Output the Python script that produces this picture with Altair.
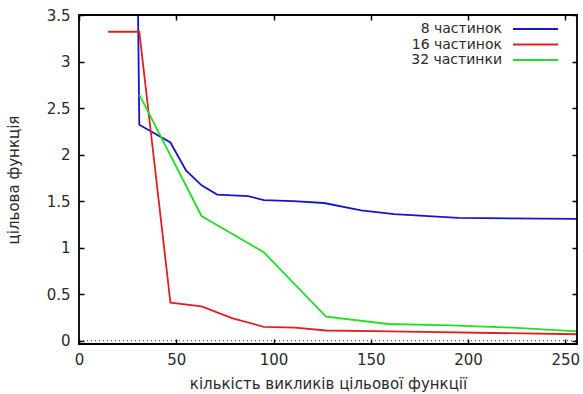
import altair as alt
import pandas as pd

# ---- data ----
series_names = ["8 частинок", "16 частинок", "32 частинки"]
series_colors = ["#1616c8", "#e02020", "#20e020"]

x8 = [30, 31, 47, 55, 63, 71, 87, 95, 110, 126, 145, 162, 195, 256]
y8 = [4.2, 2.32, 2.13, 1.83, 1.67, 1.57, 1.555, 1.51, 1.50, 1.48, 1.40, 1.36, 1.32, 1.31]

x16 = [15, 31, 47, 63, 79, 95, 111, 127, 160, 256]
y16 = [3.32, 3.32, 0.41, 0.37, 0.24, 0.15, 0.14, 0.11, 0.10, 0.07]

x32 = [31, 63, 95, 127, 159, 191, 223, 256]
y32 = [2.645, 1.34, 0.95, 0.26, 0.18, 0.165, 0.14, 0.10]

x_ticks = [0, 50, 100, 150, 200, 250]
y_ticks = [0, 0.5, 1, 1.5, 2, 2.5, 3, 3.5]

x_title = "кількість викликів цільової функції"
y_title = "цільова функція"

# ---- build table ----
rows = []
for name, xs, ys in zip(series_names, [x8, x16, x32], [y8, y16, y32]):
    for i, (xv, yv) in enumerate(zip(xs, ys)):
        rows.append({"series": name, "x": xv, "y": yv, "order": i})
df = pd.DataFrame(rows)

W, H = 498, 329
FONT = "DejaVu Sans"
FS = 15
TXT = "#2a2a2a"

xscale = alt.Scale(domain=[0, 256], nice=False, zero=False)
yscale = alt.Scale(domain=[-0.035, 3.5], nice=False, zero=False)

color = alt.Color("series:N", scale=alt.Scale(domain=series_names, range=series_colors), legend=None)

lines = alt.Chart(df).mark_line(strokeWidth=1.8, clip=True).encode(
    x=alt.X("x:Q", scale=xscale, axis=alt.Axis(
        orient="bottom", values=x_ticks, title=x_title, tickSize=5, offset=-5,
        domain=False, grid=False, labelPadding=8, titlePadding=9,
        labelFontSize=FS, titleFontSize=FS, labelFont=FONT, titleFont=FONT,
        titleFontWeight="normal", labelColor=TXT, titleColor=TXT,
        tickColor="black", tickWidth=1.5, labelFlush=False)),
    y=alt.Y("y:Q", scale=yscale, axis=alt.Axis(
        orient="left", values=y_ticks, title=y_title, tickSize=5, offset=-5,
        domain=False, grid=False, labelPadding=9, titlePadding=25, format=".1~f",
        labelFontSize=FS, titleFontSize=FS, labelFont=FONT, titleFont=FONT,
        titleFontWeight="normal", labelColor=TXT, titleColor=TXT,
        tickColor="black", tickWidth=1.5, labelFlush=False)),
    color=color,
    order="order:Q",
    detail="series:N",
)

# zero dotted line + mirror axes (top / right)
zero = alt.Chart(pd.DataFrame({"z": [0]})).mark_rule(
    strokeDash=[1, 3], color="#333", strokeWidth=1
).encode(
    y=alt.Y("z:Q", scale=yscale, axis=alt.Axis(
        orient="right", values=y_ticks, title=None, labels=False, tickSize=5,
        offset=-5, domain=False, grid=False, tickColor="black", tickWidth=1.5)),
    x=alt.datum(0, scale=xscale, axis=alt.Axis(
        orient="top", values=x_ticks, title=None, labels=False, tickSize=5,
        offset=-5, domain=False, grid=False, tickColor="black", tickWidth=1.5)),
    x2=alt.datum(256),
)

# plot frame
frame = alt.Chart(pd.DataFrame({"f": [0]})).mark_rect(
    fill="white", fillOpacity=0, stroke="black", strokeWidth=1.8
).encode(x=alt.value(0), x2=alt.value(W), y=alt.value(0), y2=alt.value(H))

# manual legend (text right-aligned, line sample to the right)
legend_layers = []
for i, (name, col) in enumerate(zip(series_names, series_colors)):
    yy = 14 + 15.5 * i
    legend_layers.append(
        alt.Chart(pd.DataFrame({"t": [name]})).mark_text(
            align="right", baseline="middle", fontSize=14, font=FONT, color=TXT
        ).encode(text="t:N", x=alt.value(423), y=alt.value(yy))
    )
    legend_layers.append(
        alt.Chart(pd.DataFrame({"t": [name]})).mark_rule(color=col, strokeWidth=1.8).encode(
            x=alt.value(434), x2=alt.value(479), y=alt.value(yy)
        )
    )

chart = alt.layer(lines, zero, frame, *legend_layers).resolve_axis(
    x="independent", y="independent"
).properties(
    width=W, height=H,
    autosize=alt.AutoSizeParams(type="none"),
    padding={"left": 79, "top": 15, "right": 6, "bottom": 50},
).configure_view(stroke=None).configure(background="white")

chart.save("out.html", embed_options={"renderer": "svg", "actions": False})
